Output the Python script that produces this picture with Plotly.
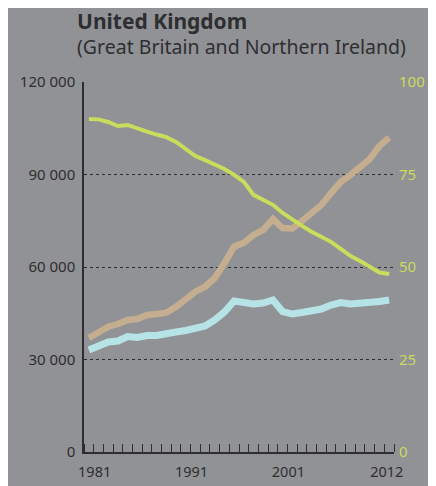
import plotly.graph_objects as go

years = list(range(1981, 2013))

# green series, right axis (0-100)
green_pct = [90.0, 89.9, 89.2, 88.1, 88.4, 87.4, 86.6, 85.8, 85.1, 83.8,
             81.9, 80.0, 78.9, 77.8, 76.5, 74.9, 73.0, 69.5, 68.1, 66.8,
             64.6, 62.7, 61.1, 59.5, 58.1, 56.8, 54.9, 53.0, 51.6, 50.0,
             48.5, 48.1]

# tan series, left axis
tan_vals = [36970, 38690, 40640, 41510, 42810, 43130, 44430, 44750, 45170, 47120,
            49450, 51990, 53610, 56430, 61290, 66580, 67870, 70370, 72000, 75560,
            72640, 72480, 74910, 77500, 80100, 84000, 87560, 89830, 92430, 95020,
            99240, 101990]

# cyan series, left axis
cyan_vals = [33080, 34380, 35670, 36000, 37460, 37130, 37780, 37780, 38100, 38920,
             39400, 40210, 40860, 42810, 45400, 48970, 48420, 48000, 48320, 49290,
             45560, 44750, 45240, 45560, 46370, 47670, 48480, 48000, 48160, 48320,
             48810, 49290]

left_ticks = [0, 30000, 60000, 90000, 120000]
left_labels = ["0", "30 000", "60 000", "90 000", "120 000"]
right_ticks = [0, 25, 50, 75, 100]
right_labels = ["0", "25", "50", "75", "100"]
x_label_years = [1981, 1991, 2001, 2012]
x_label_pos = [1981.6, 1991.6, 2001.6, 2011.75]

title_text = "United Kingdom"
subtitle_text = "(Great Britain and Northern Ireland)"

BG = "#919296"
DARK = "#2e2e30"
GREEN = "#c9dc5c"
TAN = "#c4ae8f"
CYAN = "#b6e3e5"
FONT = "Noto Sans"

fig = go.Figure()
fig.add_trace(go.Scatter(x=years, y=cyan_vals, mode="lines",
                         line=dict(color=CYAN, width=7), hoverinfo="skip"))
fig.add_trace(go.Scatter(x=years, y=tan_vals, mode="lines",
                         line=dict(color=TAN, width=6.5), hoverinfo="skip"))
fig.add_trace(go.Scatter(x=years, y=green_pct, mode="lines", yaxis="y2",
                         line=dict(color=GREEN, width=4), hoverinfo="skip"))

fig.update_layout(
    width=436, height=486,
    margin=dict(l=73, r=50, t=74, b=42),
    paper_bgcolor=BG, plot_bgcolor=BG,
    showlegend=False,
    font=dict(family=FONT, size=15, color=DARK),
    xaxis=dict(
        range=[1980.5, 2012.5],
        tickvals=x_label_pos, ticktext=[str(y) for y in x_label_years],
        ticks="", showgrid=False, zeroline=False,
        showline=True, linecolor=DARK, linewidth=1.5,
        minor=dict(ticks="inside", tick0=1980.5, dtick=1, ticklen=8,
                   tickcolor=DARK, tickwidth=1.2, showgrid=False),
        tickfont=dict(size=14.5, color=DARK),
        ticklabelstandoff=6,
    ),
    yaxis=dict(
        range=[0, 120000],
        tickvals=left_ticks, ticktext=left_labels,
        ticks="", showline=True, linecolor=DARK, linewidth=1.5,
        showgrid=True, gridcolor=DARK, gridwidth=1, griddash="dot",
        zeroline=False,
        tickfont=dict(size=15, color=DARK),
        ticklabelstandoff=4,
    ),
    yaxis2=dict(
        range=[0, 100], overlaying="y", side="right",
        tickvals=right_ticks, ticktext=right_labels,
        ticks="", showline=False, showgrid=False, zeroline=False,
        tickfont=dict(size=15, color=GREEN),
        ticklabelstandoff=4,
    ),
    annotations=[
        dict(text=("<span style='font-size:21px'><b>" + title_text + "</b></span><br>"
                   + subtitle_text),
             xref="paper", yref="paper",
             x=-0.028, y=1.132, xanchor="left", yanchor="middle", align="left",
             showarrow=False, font=dict(family=FONT, size=19.5, color=DARK)),
    ],
)

fig.write_html("out.html")
